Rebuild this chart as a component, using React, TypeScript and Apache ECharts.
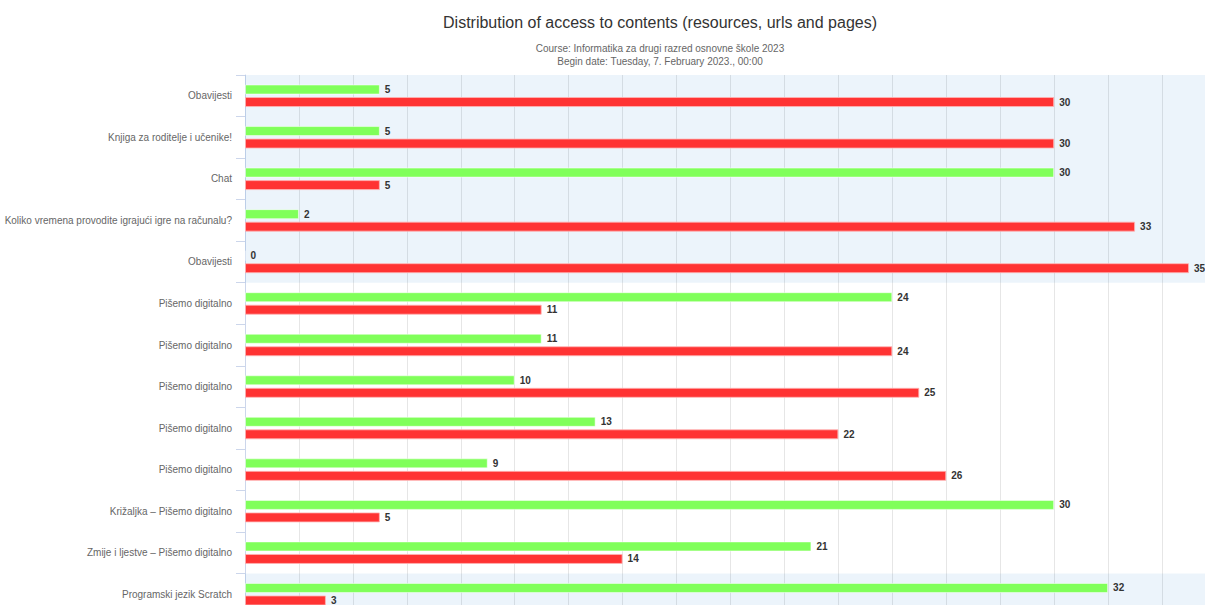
import React, { useEffect, useRef } from "react";
import * as echarts from "echarts";

const categories = [
  "Obavijesti",
  "Knjiga za roditelje i učenike!",
  "Chat",
  "Koliko vremena provodite igrajući igre na računalu?",
  "Obavijesti",
  "Pišemo digitalno",
  "Pišemo digitalno",
  "Pišemo digitalno",
  "Pišemo digitalno",
  "Pišemo digitalno",
  "Križaljka – Pišemo digitalno",
  "Zmije i ljestve – Pišemo digitalno",
  "Programski jezik Scratch",
];
const greenValues = [5, 5, 30, 2, 0, 24, 11, 10, 13, 9, 30, 21, 32];
const redValues = [30, 30, 5, 33, 35, 11, 24, 25, 22, 26, 5, 14, 3];
const bandRanges = [
  [0, 5],
  [12, 13],
];

const FONT = "'Liberation Sans', Arial, sans-serif";

export default function App() {
  const ref = useRef<HTMLDivElement>(null);
  useEffect(() => {
    if (!ref.current) return;
    const chart = echarts.init(ref.current, undefined, { renderer: "svg" });
    const labelCfg = {
      show: true,
      position: "right" as const,
      distance: 5,
      color: "#333",
      fontWeight: "bold" as const,
      fontSize: 10,
      fontFamily: FONT,
    };
    chart.setOption({
      animation: false,
      backgroundColor: "#ffffff",
      title: [
        {
          text: "Distribution of access to contents (resources, urls and pages)",
          left: 655,
          top: 9,
          textAlign: "center",
          textStyle: { fontSize: 16, fontWeight: "normal", color: "#333", fontFamily: FONT },
        },
        {
          text: "Course: Informatika za drugi razred osnovne škole 2023\nBegin date: Tuesday, 7. February 2023., 00:00",
          left: 655,
          top: 37,
          textAlign: "center",
          textStyle: { fontSize: 10, lineHeight: 13, fontWeight: "normal", color: "#666", fontFamily: FONT },
        },
      ],
      grid: { left: 245, top: 75, width: 971, height: 540, containLabel: false },
      xAxis: {
        type: "value",
        min: 0,
        max: 36,
        interval: 2,
        axisLabel: { show: false },
        axisLine: { show: false },
        axisTick: { show: false },
        splitLine: { show: true, lineStyle: { color: "#e6e6e6", width: 1 } },
      },
      yAxis: [
        {
          type: "category",
          data: categories,
          inverse: true,
          axisLine: { show: true, lineStyle: { color: "#ccd6eb" } },
          axisTick: { show: true, length: 9, lineStyle: { color: "#ccd6eb" } },
          axisLabel: { color: "#666", fontSize: 10, margin: 13, fontFamily: FONT },
          splitLine: { show: false },
        },
        {
          type: "value",
          min: 0,
          max: 13,
          inverse: true,
          show: false,
        },
      ],
      series: [
        {
          type: "line",
          xAxisIndex: 0,
          yAxisIndex: 1,
          data: [[0, 0]],
          showSymbol: false,
          symbol: "none",
          lineStyle: { opacity: 0 },
          silent: true,
          markArea: {
            silent: true,
            itemStyle: { color: "rgba(0,110,200,0.075)" },
            data: bandRanges.map(([a, b]) => [{ yAxis: a }, { yAxis: b }]),
          },
        },
        {
          type: "bar",
          yAxisIndex: 0,
          data: greenValues,
          barWidth: 10,
          barGap: "25%",
          itemStyle: { color: "#80ff5a", borderColor: "rgba(255,255,255,0.5)", borderWidth: 1 },
          label: labelCfg,
        },
        {
          type: "bar",
          yAxisIndex: 0,
          data: redValues,
          barWidth: 10,
          barGap: "25%",
          itemStyle: { color: "#ff3333", borderColor: "rgba(255,180,180,0.8)", borderWidth: 1 },
          label: labelCfg,
        },
      ],
    });
    return () => chart.dispose();
  }, []);
  return (
    <div
      ref={ref}
      style={{ position: "fixed", left: 0, top: 0, width: 1240, height: 640, overflow: "hidden" }}
    />
  );
}
